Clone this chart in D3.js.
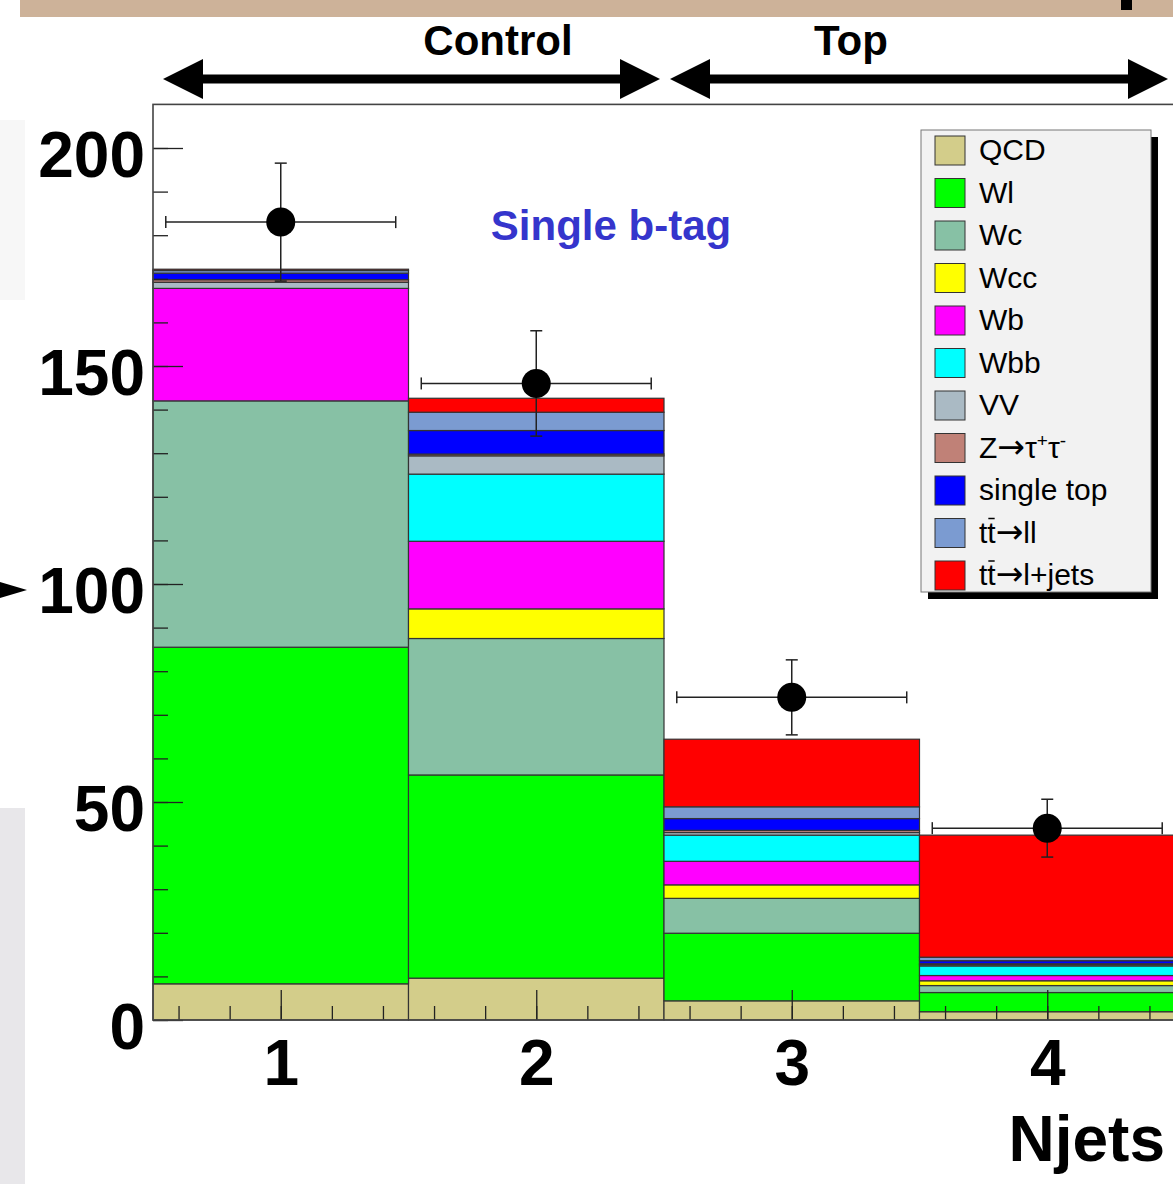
<!DOCTYPE html>
<html>
<head>
<meta charset="utf-8">
<script src="https://cdn.jsdelivr.net/npm/d3@7"></script>
<style>
  body { margin: 0; background: #fff; }
  svg { display: block; font-family: "Liberation Sans", Arial, sans-serif; }
  .axis text { font-size: 64px; font-weight: bold; fill: #000; }
  .axis line { stroke: #222; stroke-width: 1.3px; }
  .arr { font-family: "DejaVu Sans", sans-serif; font-size: 33px; }
</style>
</head>
<body>
<script>
// Njets bins
var njets = [1, 2, 3, 4];

// stacked backgrounds, bottom to top (events per bin)
var qcd  = [8.3, 9.6, 4.4, 1.9];
var wl   = [77.2, 46.6, 15.5, 4.4];
var wc   = [56.5, 31.3, 8.0, 1.6];
var wcc  = [0.0, 6.8, 3.1, 1.1];
var wb   = [25.8, 15.5, 5.4, 1.2];
var wbb  = [0.0, 15.4, 6.0, 2.2];
var vv   = [1.4, 4.2, 0.6, 0.3];
var ztt  = [0.6, 0.4, 0.5, 0.2];
var stop = [1.5, 5.4, 2.7, 0.7];
var ttll = [0.6, 4.2, 2.7, 0.8];
var ttlj = [0.3, 3.2, 15.5, 28.0];

// observed data
var dataCounts = [183, 146, 74, 44];

var keys = ["QCD", "Wl", "Wc", "Wcc", "Wb", "Wbb", "VV", "Ztt", "stop", "ttll", "ttlj"];
var series = [qcd, wl, wc, wcc, wb, wbb, vv, ztt, stop, ttll, ttlj];
var colors = ["#d3cd8a", "#00ff00", "#87c1a5", "#ffff00", "#ff00ff", "#00ffff",
              "#aabac4", "#c08177", "#0000ff", "#7b9bd1", "#ff0000"];

var yMajor = [0, 50, 100, 150, 200];

var width = 1173, height = 1184;

var svg = d3.select("body").append("svg")
    .attr("width", width).attr("height", height);

var x = d3.scaleLinear().domain([0.5, 4.5]).range([153, 1175]);
var y = d3.scaleLinear().domain([0, 200]).range([1020, 148]);
var yTop = 210;

// banner / background bits of the slide
svg.append("rect").attr("x", 20).attr("y", 0).attr("width", width - 20).attr("height", 17).attr("fill", "#cdb299");
svg.append("rect").attr("x", 1121).attr("y", 0).attr("width", 11).attr("height", 10).attr("fill", "#000");
svg.append("rect").attr("x", 0).attr("y", 808).attr("width", 25).attr("height", height - 808).attr("fill", "#d8d7dc").attr("opacity", 0.6);
svg.append("rect").attr("x", 0).attr("y", 120).attr("width", 25).attr("height", 180).attr("fill", "#f7f7f7");
svg.append("path").attr("d", "M0,582L27,590L0,598Z").attr("fill", "#000");

// build table for the stack
var table = njets.map(function(n, i) {
  var row = {n: n};
  keys.forEach(function(k, j) { row[k] = series[j][i]; });
  return row;
});
var stacked = d3.stack().keys(keys)(table);

var plot = svg.append("g");

stacked.forEach(function(layer, j) {
  plot.selectAll(".l" + j)
    .data(layer.filter(function(d) { return d[1] - d[0] > 0; }))
    .enter().append("rect")
      .attr("x", function(d) { return x(d.data.n - 0.5); })
      .attr("width", function(d) { return x(d.data.n + 0.5) - x(d.data.n - 0.5); })
      .attr("y", function(d) { return y(d[1]); })
      .attr("height", function(d) { return y(d[0]) - y(d[1]); })
      .attr("fill", colors[j])
      .attr("stroke", "#333")
      .attr("stroke-width", 1.2);
});

// axes
var yAxis = d3.axisLeft(y).tickValues(yMajor).tickSize(-30).tickPadding(8);
var yMinor = d3.axisLeft(y).tickValues(d3.range(0, 201, 10)).tickSize(-15).tickFormat("");
var xAxis = d3.axisBottom(x).tickValues(njets).tickSize(-30).tickPadding(20).tickFormat(d3.format("d"));
var xMinor = d3.axisBottom(x).tickValues(d3.range(0.6, 4.45, 0.2)).tickSize(-14).tickFormat("");

svg.append("g").attr("class", "axis").attr("transform", "translate(153,0)").call(yMinor);
svg.append("g").attr("class", "axis").attr("transform", "translate(153,0)").call(yAxis)
  .selectAll("text").attr("dy", "0.44em");
svg.append("g").attr("class", "axis").attr("transform", "translate(0,1020)").call(xMinor);
svg.append("g").attr("class", "axis").attr("transform", "translate(0,1020)").call(xAxis);
svg.selectAll(".axis .domain").remove();

// frame
svg.append("rect")
  .attr("x", x(0.5)).attr("y", y(yTop))
  .attr("width", x(4.5) - x(0.5)).attr("height", y(0) - y(yTop))
  .attr("fill", "none").attr("stroke", "#444").attr("stroke-width", 1.6);

// data points with errors
var pts = svg.selectAll(".pt").data(njets).enter().append("g");
pts.append("line")
  .attr("x1", function(d) { return x(d - 0.45); }).attr("x2", function(d) { return x(d + 0.45); })
  .attr("y1", function(d, i) { return y(dataCounts[i]); }).attr("y2", function(d, i) { return y(dataCounts[i]); });
pts.append("line")
  .attr("x1", function(d) { return x(d); }).attr("x2", function(d) { return x(d); })
  .attr("y1", function(d, i) { return y(dataCounts[i] + Math.sqrt(dataCounts[i])); })
  .attr("y2", function(d, i) { return y(dataCounts[i] - Math.sqrt(dataCounts[i])); });
[-0.45, 0.45].forEach(function(o) {
  pts.append("line")
    .attr("x1", function(d) { return x(d + o); }).attr("x2", function(d) { return x(d + o); })
    .attr("y1", function(d, i) { return y(dataCounts[i]) - 6; }).attr("y2", function(d, i) { return y(dataCounts[i]) + 6; });
});
[1, -1].forEach(function(s) {
  pts.append("line")
    .attr("x1", function(d) { return x(d) - 6; }).attr("x2", function(d) { return x(d) + 6; })
    .attr("y1", function(d, i) { return y(dataCounts[i] + s * Math.sqrt(dataCounts[i])); })
    .attr("y2", function(d, i) { return y(dataCounts[i] + s * Math.sqrt(dataCounts[i])); });
});
pts.selectAll("line").attr("stroke", "#222").attr("stroke-width", 1.5);
pts.append("circle")
  .attr("cx", function(d) { return x(d); })
  .attr("cy", function(d, i) { return y(dataCounts[i]); })
  .attr("r", 14.5).attr("fill", "#000");

// region arrows
function dblArrow(x1, x2, yy) {
  var h = 40, w = 20, t = 4.5;
  var d = "M" + x1 + "," + yy + "L" + (x1 + h) + "," + (yy - w) + "L" + (x1 + h) + "," + (yy - t) +
          "L" + (x2 - h) + "," + (yy - t) + "L" + (x2 - h) + "," + (yy - w) + "L" + x2 + "," + yy +
          "L" + (x2 - h) + "," + (yy + w) + "L" + (x2 - h) + "," + (yy + t) + "L" + (x1 + h) + "," + (yy + t) +
          "L" + (x1 + h) + "," + (yy + w) + "Z";
  svg.append("path").attr("d", d).attr("fill", "#000");
}
dblArrow(163, 660, 79);
dblArrow(670, 1168, 79);

svg.append("text").attr("x", 498).attr("y", 55).attr("text-anchor", "middle")
  .style("font-size", "42px").style("font-weight", "bold").text("Control");
svg.append("text").attr("x", 851).attr("y", 55).attr("text-anchor", "middle")
  .style("font-size", "42px").style("font-weight", "bold").text("Top");

svg.append("text").attr("x", 611).attr("y", 240).attr("text-anchor", "middle")
  .style("font-size", "42px").style("font-weight", "bold").attr("fill", "#3535cc").text("Single b-tag");

svg.append("text").attr("x", 1165).attr("y", 1161).attr("text-anchor", "end")
  .style("font-size", "64px").style("font-weight", "bold").text("Njets");

// legend
var leg = svg.append("g");
leg.append("rect").attr("x", 928).attr("y", 137).attr("width", 230).attr("height", 462).attr("fill", "#000");
leg.append("rect").attr("x", 921).attr("y", 130).attr("width", 230).attr("height", 462)
  .attr("fill", "#f2f2f2").attr("stroke", "#777").attr("stroke-width", 1);

var entries = leg.selectAll(".entry").data(keys).enter().append("g")
  .attr("transform", function(d, i) { return "translate(0," + (136 + i * 42.5) + ")"; });
entries.append("rect").attr("x", 935).attr("y", 0).attr("width", 30).attr("height", 29)
  .attr("fill", function(d, i) { return colors[i]; }).attr("stroke", "#333").attr("stroke-width", 1);

var lt = entries.append("text").attr("x", 979).attr("y", 24).style("font-size", "30px");
lt.each(function(k) {
  var t = d3.select(this);
  if (k === "Ztt") {
    t.append("tspan").text("Z");
    t.append("tspan").attr("class", "arr").text("\u2192");
    t.append("tspan").text("\u03c4");
    t.append("tspan").attr("dy", -11).style("font-size", "19px").text("+");
    t.append("tspan").attr("dy", 11).text("\u03c4");
    t.append("tspan").attr("dy", -11).style("font-size", "19px").text("-");
  } else if (k === "ttll" || k === "ttlj") {
    t.append("tspan").text("tt");
    t.append("tspan").attr("class", "arr").text("\u2192");
    t.append("tspan").text(k === "ttll" ? "ll" : "l+jets");
    var node = this;
    var a = node.getStartPositionOfChar(1).x, b = node.getEndPositionOfChar(1).x;
    d3.select(node.parentNode).append("line")
      .attr("x1", a + 1).attr("x2", b - 1).attr("y1", 0).attr("y2", 0)
      .attr("stroke", "#000").attr("stroke-width", 1.5);
  } else {
    t.text({stop: "single top"}[k] || k);
  }
});
</script>
</body>
</html>
